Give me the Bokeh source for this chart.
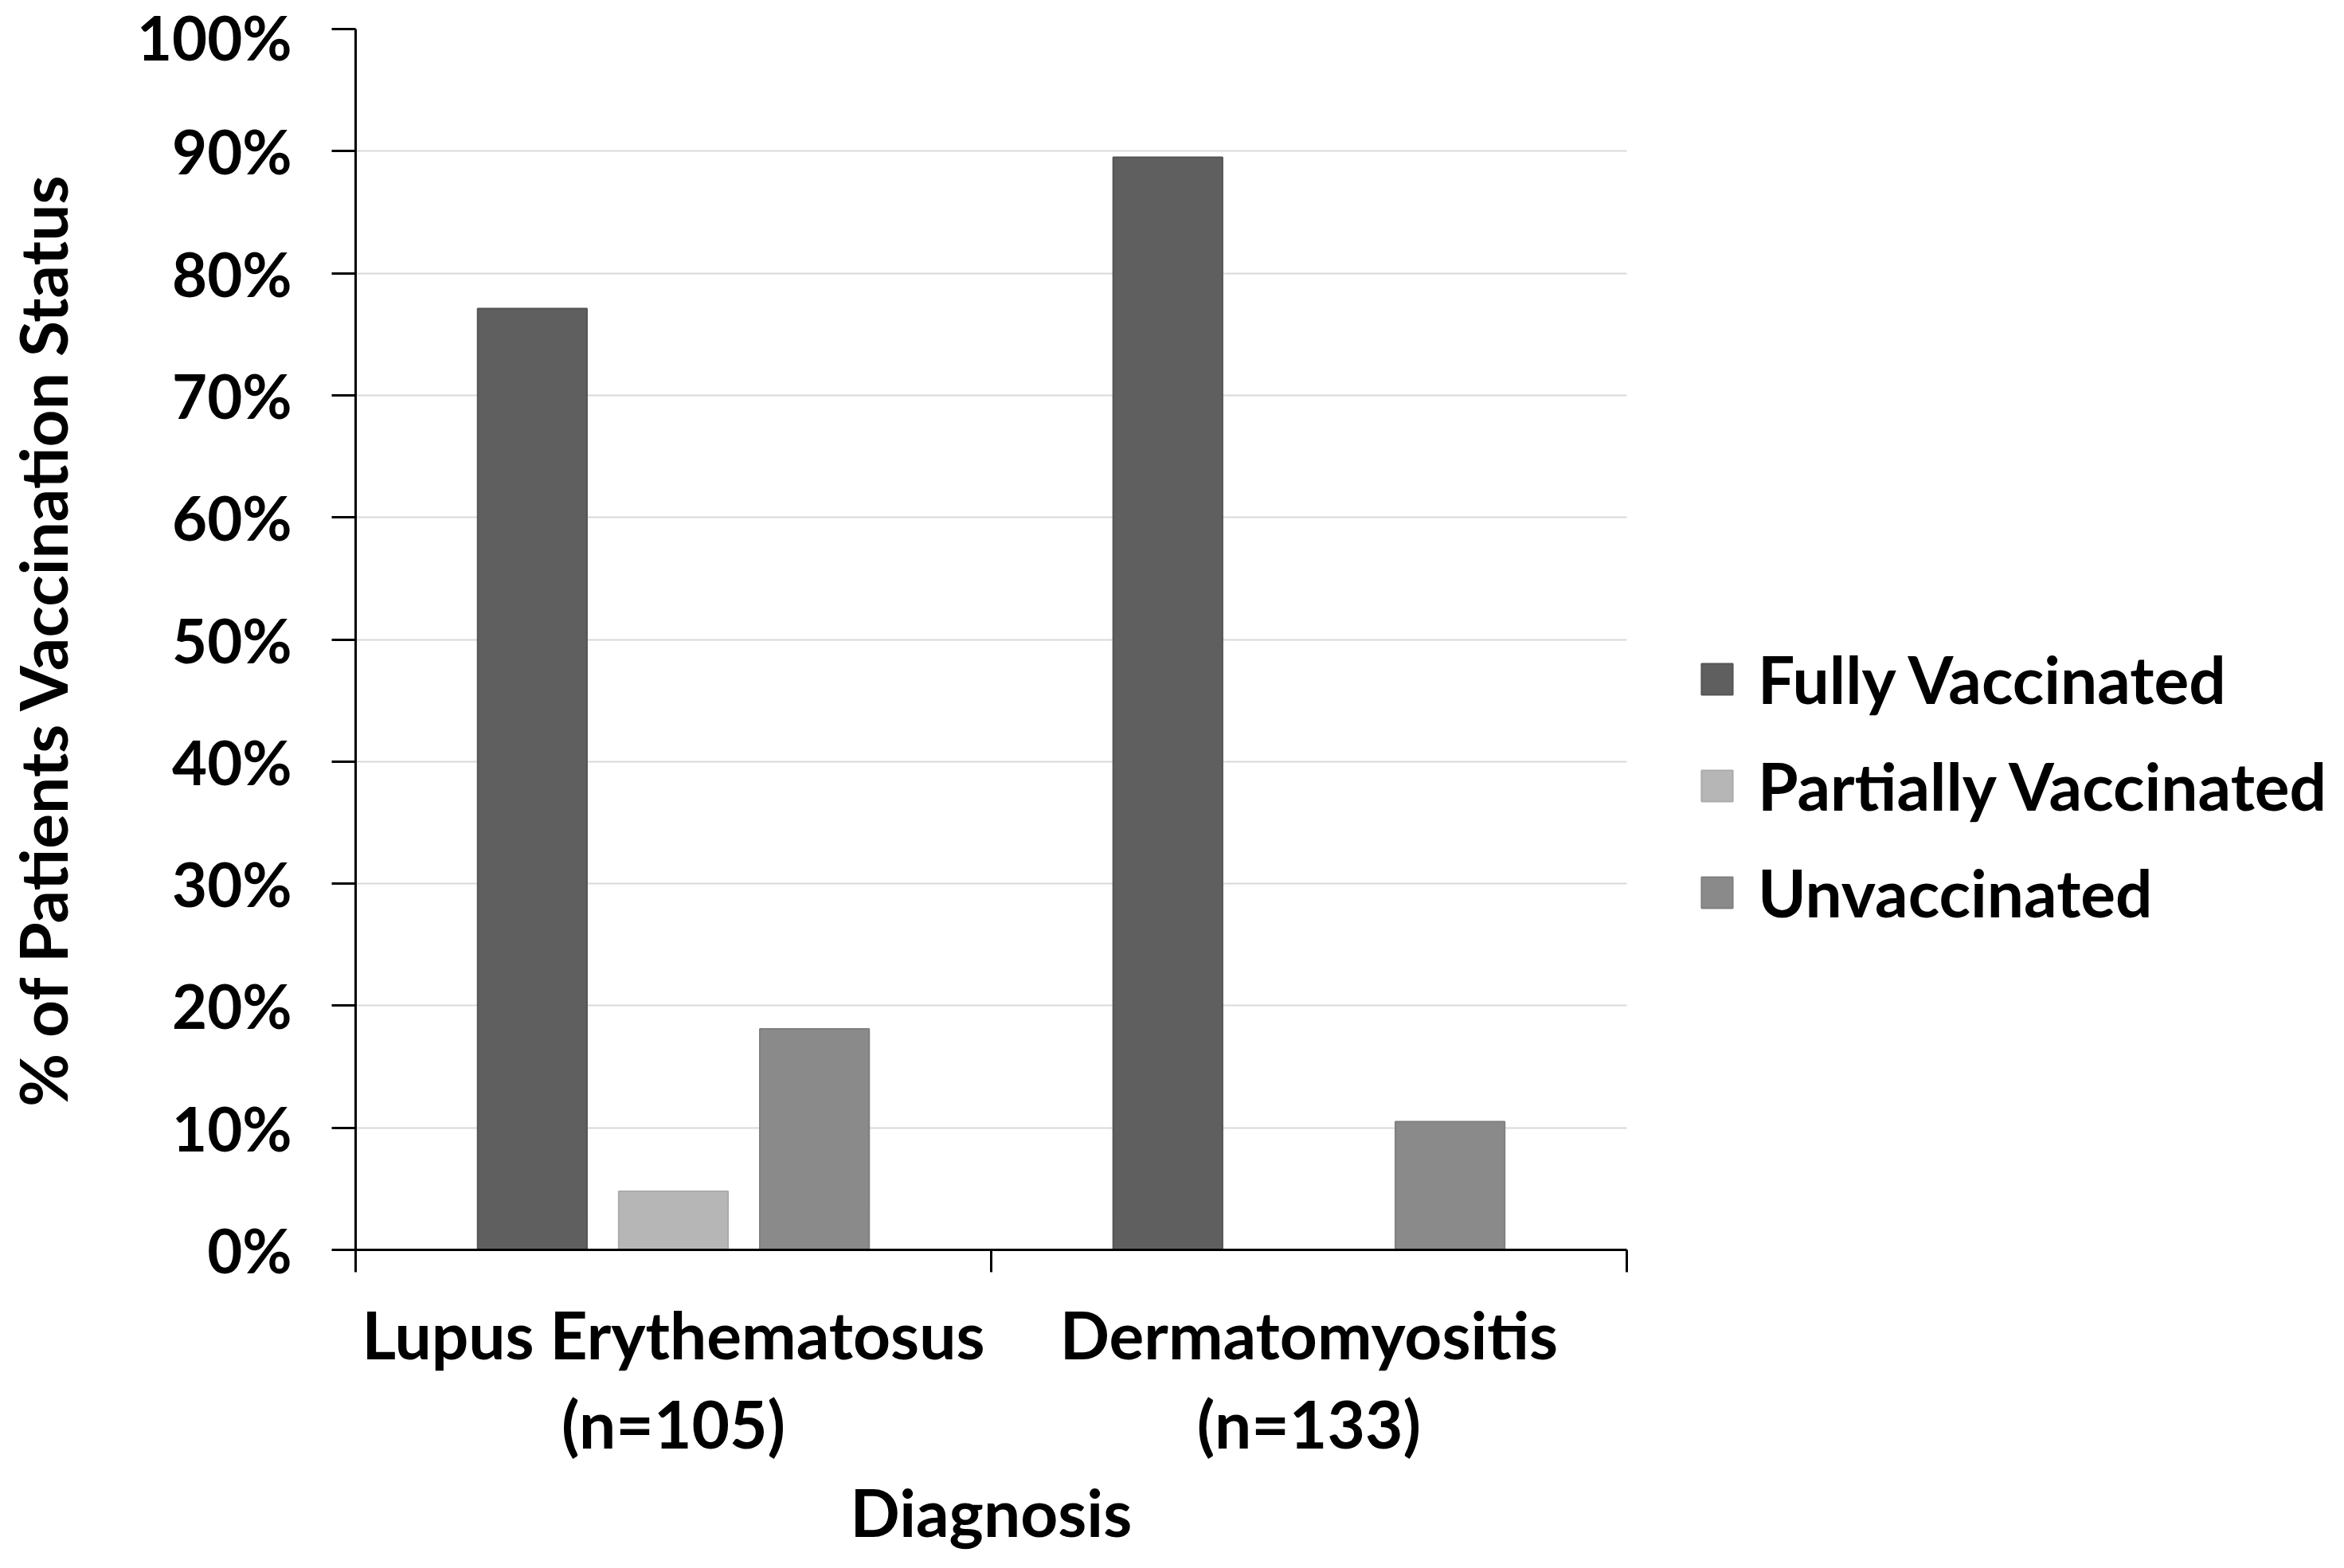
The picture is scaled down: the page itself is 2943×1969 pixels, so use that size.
from bokeh.plotting import figure
from bokeh.models import Range1d, FixedTicker, Legend, LegendItem, ColumnDataSource, Title
from bokeh.embed import file_html
from bokeh.resources import INLINE

# ---- data ----
categories = ["Lupus Erythematosus\n(n=105)", "Dermatomyositis\n(n=133)"]
series = ["Fully Vaccinated", "Partially Vaccinated", "Unvaccinated"]
fully_vaccinated = [77.1, 89.5]
partially_vaccinated = [4.8, 0.0]
unvaccinated = [18.1, 10.5]
y_ticks = [0, 10, 20, 30, 40, 50, 60, 70, 80, 90, 100]
y_tick_labels = ["0%", "10%", "20%", "30%", "40%", "50%", "60%", "70%", "80%", "90%", "100%"]
x_title = "Diagnosis"
y_title = "% of Patients Vaccination Status"

# ---- style / layout ----
FONT = "Lato"
FS = "82px"
TICK_FS = "76px"
fill_colors = ["#5f5f5f", "#b6b6b6", "#8a8a8a"]
line_colors = ["#555555", "#ababab", "#808080"]
offsets = [-0.222, 0.0, 0.222]
bar_width = 0.172

W, H = 2927, 1953
LEFT, TOP, BOTTOM = 435, 36, 383
PLOT_W = 1603                     # pixel width of the category area
X_TITLE_W = 361                   # approx. rendered width of the x title
n_cat = len(categories)
frame_w = W - LEFT                # frame extends to the right edge (legend lives there)
x_end = n_cat * frame_w / PLOT_W

p = figure(width=W, height=H,
           x_range=Range1d(0, x_end), y_range=Range1d(0, 100),
           output_backend="svg", toolbar_location=None,
           min_border_left=LEFT, min_border_right=0,
           min_border_top=TOP, min_border_bottom=BOTTOM)
p.outline_line_color = None
p.background_fill_color = "white"
p.border_fill_color = "white"

# grid (restricted to the category area)
p.xgrid.visible = False
p.ygrid.ticker = FixedTicker(ticks=y_ticks)
p.ygrid.grid_line_color = "#d9d9d9"
p.ygrid.grid_line_width = 2
p.ygrid.cross_bounds = (0, n_cat)

renderers = []
for j, vals in enumerate([fully_vaccinated, partially_vaccinated, unvaccinated]):
    xs = [i + 0.5 + offsets[j] for i in range(n_cat)]
    src = ColumnDataSource(dict(x=xs, top=vals))
    r = p.vbar(x="x", top="top", bottom=0, width=bar_width, source=src,
               fill_color=fill_colors[j], line_color=line_colors[j], line_width=2)
    renderers.append(r)

# y axis
ya = p.yaxis[0]
ya.ticker = FixedTicker(ticks=y_ticks, minor_ticks=[])
ya.major_label_overrides = {t: l for t, l in zip(y_ticks, y_tick_labels)}
ya.axis_line_color = "black"
ya.axis_line_width = 3
ya.major_tick_out = 30
ya.major_tick_in = 0
ya.major_tick_line_width = 3
ya.major_tick_line_color = "black"
ya.minor_tick_line_color = None
ya.major_label_standoff = 50
ya.major_label_text_font = FONT
ya.major_label_text_font_style = "bold"
ya.major_label_text_font_size = TICK_FS
ya.major_label_text_color = "black"
ya.axis_label = y_title
ya.axis_label_text_font = FONT
ya.axis_label_text_font_style = "bold"
ya.axis_label_text_font_size = FS
ya.axis_label_text_color = "black"
ya.axis_label_standoff = 67

# x axis
xa = p.xaxis[0]
xa.bounds = (0, n_cat)
xa.ticker = FixedTicker(ticks=[i + 0.5 for i in range(n_cat)],
                        minor_ticks=list(range(n_cat + 1)))
xa.major_label_overrides = {i + 0.5: c for i, c in enumerate(categories)}
xa.axis_line_color = "black"
xa.axis_line_width = 3
xa.major_tick_out = 0
xa.major_tick_in = 0
xa.major_tick_line_color = None
xa.minor_tick_out = 28
xa.minor_tick_in = 0
xa.minor_tick_line_width = 3
xa.minor_tick_line_color = "black"
xa.major_label_standoff = 28
xa.major_label_text_font = FONT
xa.major_label_text_font_style = "bold"
xa.major_label_text_font_size = FS
xa.major_label_text_color = "black"
xa.major_label_text_line_height = 1.15

# x-axis title, centred under the category area
xt = Title(text=x_title, align="left", offset=(PLOT_W - X_TITLE_W) / 2, standoff=14,
           text_font=FONT, text_font_size=FS, text_font_style="bold", text_color="black")
p.add_layout(xt, "below")

legend = Legend(items=[LegendItem(label=s, renderers=[r]) for s, r in zip(series, renderers)],
                location=(1685, 400), orientation="vertical",
                glyph_width=49, glyph_height=49, label_standoff=27,
                label_text_font=FONT, label_text_font_style="bold",
                label_text_font_size=FS, label_text_color="black",
                spacing=36, padding=0, margin=0,
                border_line_color=None, background_fill_alpha=0)
p.add_layout(legend, "center")

open("out.html", "w").write(file_html(p, INLINE))
